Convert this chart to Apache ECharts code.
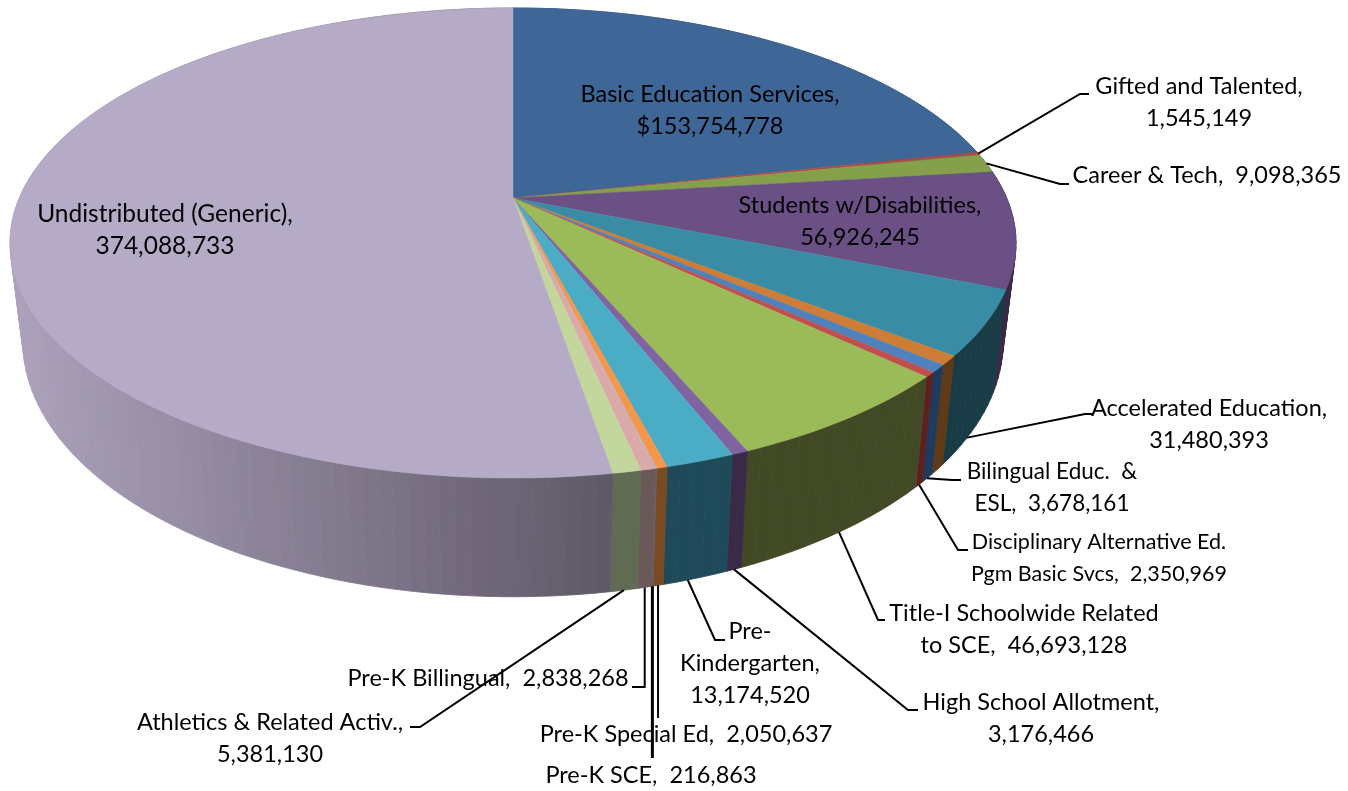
<!DOCTYPE html>
<html><head><meta charset="utf-8">
<style>html,body{margin:0;padding:0;background:#fff}#c{width:1348px;height:791px}</style>
<script src="https://cdn.jsdelivr.net/npm/echarts@6/dist/echarts.min.js"></script>
</head><body><div id="c"></div>
<script>
// ---- data ----
var categories = ['Basic Education Services','Gifted and Talented','Career & Tech','Students w/Disabilities','Accelerated Education','(unlabeled)','Bilingual Educ. & ESL','Disciplinary Alternative Ed. Pgm Basic Svcs','Title-I Schoolwide Related to SCE','High School Allotment','Pre-Kindergarten','Pre-K Special Ed','Pre-K SCE','Pre-K Billingual','Athletics & Related Activ.','Undistributed (Generic)'];
var values = [153754778,1545149,9098365,56926245,31480393,4500000,3678161,2350969,46693128,3176466,13174520,2050637,216863,2838268,5381130,374088733];
var labels = ['Basic Education Services,\n$153,754,778','Gifted and Talented,\n1,545,149','Career & Tech,  9,098,365','Students w/Disabilities,\n56,926,245','Accelerated Education,\n31,480,393','','Bilingual Educ.  &\nESL,  3,678,161','Disciplinary Alternative Ed.\nPgm Basic Svcs,  2,350,969','Title-I Schoolwide Related\nto SCE,  46,693,128','High School Allotment,\n3,176,466','Pre-\nKindergarten,\n13,174,520','Pre-K Special Ed,  2,050,637','Pre-K SCE,  216,863','Pre-K Billingual,  2,838,268','Athletics & Related Activ.,\n5,381,130','Undistributed (Generic),\n374,088,733'];

// ---- styles & layout (not data) ----
var topColors = ['#3E6797','#A84C49','#84A04B','#6A5085','#3A8CA4','#CD7D35','#4F81BD','#C0504D','#9BBB59','#8064A2','#4BACC6','#F79646','#A9B8D0','#D9AAA9','#C3D69B','#B6ABC6'];
var wallColors = [null,'#5A1D1C','#4A5A28','#3A2A48','#183B46','#5E3A17','#1E3A5C','#5F1F1E','#414A25','#3A2A48','#1F4A5A','#7A4A22','#5F6470','#6B5858','#5F6B52',null];
var wallLilac = [182,170,198];
var labelPos = [[710,110],[1199,102],[1207,175],[860,221],[1209,424],null,[1052,488],[1099,558],[1024,629],[1041,718],[750,663],[686,734],[651,775],[488,678],[270,738],[165,230]];
var labelSize = [23.5,23.5,23.5,23.5,23.5,23.5,22.5,21.5,23.5,23.5,23.5,23.5,23.5,23.5,23.5,24.5];
// leader: which rim the line starts on, then its elbow and end points
var leaders = [null,{rim:'top',pts:[[1080,94],[1089,94]]},{rim:'top',pts:[[1060,184],[1069,184]]},null,{rim:'bottom',at:0.62,pts:[[1085,414],[1092,414]]},null,{rim:'bottom',pts:[[952,480],[961,480]]},{rim:'bottom',pts:[[958,550],[968,550]]},{rim:'bottom',pts:[[878,620],[885,620]]},{rim:'bottom',pts:[[908,710],[918,710]]},{rim:'bottom',at:0.62,pts:[[715,640],[725,640]]},{rim:'bottom',w:2,vert:718},{rim:'bottom',w:3,vert:758},{rim:'bottom',vert:687,pts:[[632,687]]},{rim:'bottom',pts:[[420,727],[410,727]]},null];
var FONT = 'Lato, Carlito, "Open Sans", sans-serif';
var cx = 513, k = 0.1915;
var discTop = {a:493.7,b:226.4,c:198};
var discBottom = {a:481,b:245.6,c:293};

// ---- geometry from values ----
var total = values.reduce(function(s,v){return s+v;},0);
var starts = [], acc = 0;
values.forEach(function(v){starts.push(acc/total*Math.PI*2);acc+=v;});
function ang1(i){return i+1<values.length?starts[i+1]:Math.PI*2;}
function pt(t,d){var X=Math.sin(t),Y=-Math.cos(t),w=1-k*Y;return [cx+d.a*X/w,d.c+d.b*Y/w];}
function hex(c){return 'rgb('+c.map(Math.round).join(',')+')';}
function wallShade(x){ // x-dependent lighting of the wall
  if(x<610) return 0.95-(x-10)/600*0.43;
  return 0.52;
}
var base = {
  coordinateSystem:'none', silent:true, animation:false,
  data: values.map(function(v,i){return {value:[v],name:categories[i]};})
};
function wallItem(p){
  var i=p.dataIndex,a0=starts[i],a1=ang1(i),kids=[];
  var n=Math.max(1,Math.ceil((a1-a0)/(Math.PI/120)));
  var idx=[];for(var j=0;j<n;j++)idx.push(j);
  idx.sort(function(u,v){return Math.cos(a0+(a1-a0)*(v+.5)/n)-Math.cos(a0+(a1-a0)*(u+.5)/n);});
  idx.reverse();
  idx.forEach(function(j){
    var t0=a0+(a1-a0)*j/n,t1=a0+(a1-a0)*(j+1)/n;
    var A=pt(t0,discTop),B=pt(t1,discTop),C=pt(t1,discBottom),D=pt(t0,discBottom);
    var col;
    if(wallColors[i]) col=wallColors[i];
    else if(i===0) col='#2A4A70';
    else {var f=wallShade((A[0]+B[0]+C[0]+D[0])/4);col=hex(wallLilac.map(function(c){return c*f;}));}
    kids.push({type:'polygon',shape:{points:[A,B,C,D]},style:{fill:col,stroke:col,lineWidth:0.8}});
  });
  return {type:'group',children:kids};
}
function topItem(p){
  var i=p.dataIndex,a0=starts[i],a1=ang1(i),pts=[[cx,discTop.c]];
  var n=Math.max(2,Math.ceil((a1-a0)/(Math.PI/180)));
  for(var j=0;j<=n;j++)pts.push(pt(a0+(a1-a0)*j/n,discTop));
  return {type:'polygon',shape:{points:pts},style:{fill:topColors[i],stroke:topColors[i],lineWidth:0.5}};
}
function labelItem(p){
  var i=p.dataIndex,kids=[],L=leaders[i];
  if(L){
    var m=starts[i]+(ang1(i)-starts[i])*(L.at==null?0.5:L.at);
    var s=pt(m,L.rim==='top'?discTop:discBottom);
    var line=[s];
    if(L.vert!=null) line.push([s[0],L.vert]);
    (L.pts||[]).forEach(function(q){line.push(q);});
    kids.push({type:'polyline',shape:{points:line},style:{fill:null,stroke:'#000',lineWidth:L.w||2}});
  }
  if(labels[i]){
    kids.push({type:'text',style:{x:labelPos[i][0],y:labelPos[i][1],text:labels[i],fill:'#000',
      font:labelSize[i]+'px '+FONT,lineHeight:32,align:'center',verticalAlign:'middle'}});
  }
  return {type:'group',children:kids};
}
var chart = echarts.init(document.getElementById('c'),null,{renderer:'canvas'});
chart.setOption({
  animation:false, backgroundColor:'#fff',
  series:[
    Object.assign({type:'custom',z:1,renderItem:wallItem},base),
    Object.assign({type:'custom',z:2,renderItem:topItem},base),
    Object.assign({type:'custom',z:3,renderItem:labelItem},base)
  ]
});
</script></body></html>
